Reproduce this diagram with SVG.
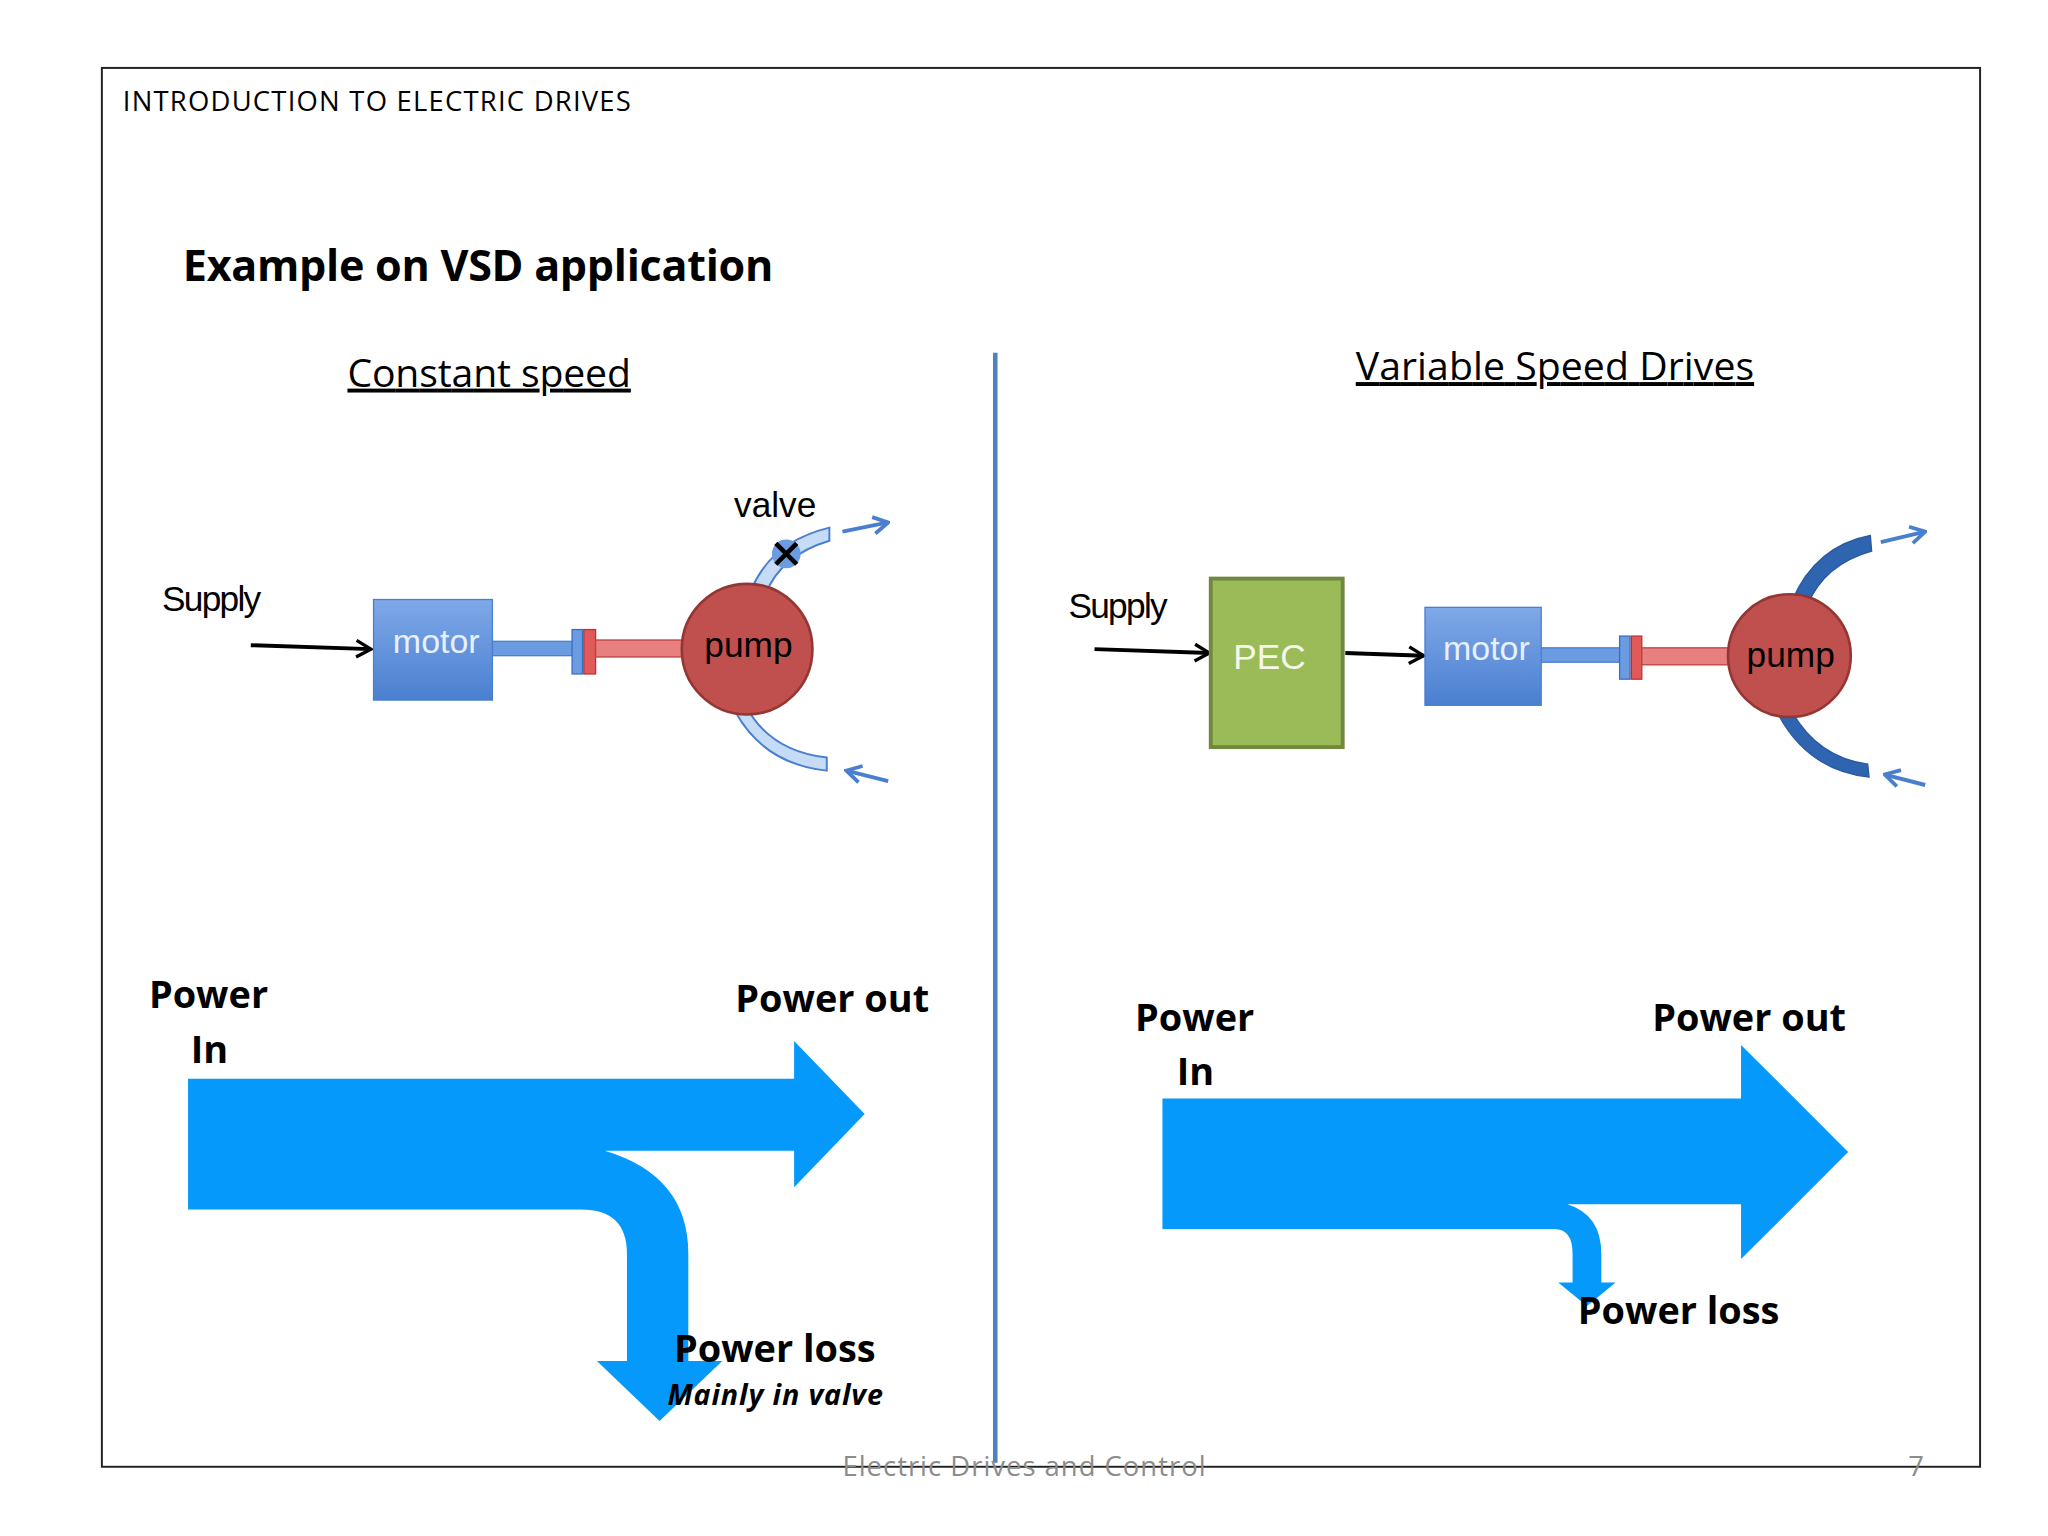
<svg xmlns="http://www.w3.org/2000/svg" width="2048" height="1536" viewBox="0 0 2048 1536">
<defs>
<linearGradient id="mg" x1="0" y1="0" x2="0" y2="1"><stop offset="0" stop-color="#7fa9e8"/><stop offset="1" stop-color="#4a7fd0"/></linearGradient>
<marker id="ah" viewBox="0 0 10 10" refX="9" refY="5" markerWidth="16" markerHeight="16" orient="auto" markerUnits="userSpaceOnUse"><path d="M2,1 L9,5 L2,9" fill="none" stroke="#000" stroke-width="1.6"/></marker>
<marker id="bh" viewBox="0 0 10 10" refX="9" refY="5" markerWidth="16" markerHeight="16" orient="auto" markerUnits="userSpaceOnUse"><path d="M2,1 L9,5 L2,9" fill="none" stroke="#4a7fd0" stroke-width="1.8"/></marker>
</defs>
<style>
.t{font-family:"Open Sans","Liberation Sans",sans-serif}
.n{font-family:"Liberation Sans",sans-serif}
.b{font-weight:bold}
.flow{fill:#0499fa}
</style>
<rect width="2048" height="1536" fill="#fff"/>
<g transform="scale(1.30612)">
<rect x="78" y="52" width="1438" height="1071" fill="none" stroke="#222" stroke-width="1.5"/>
<text class="t" x="94" y="85" font-size="21" textLength="389">INTRODUCTION TO ELECTRIC DRIVES</text>
<text class="t b" x="140" y="215" font-size="33" textLength="452">Example on VSD application</text>
<text class="t" x="266" y="296" font-size="30" text-decoration="underline" textLength="217">Constant speed</text>
<text class="t" x="1038" y="291" font-size="30" text-decoration="underline" textLength="305">Variable Speed Drives</text>
<line x1="762" y1="270" x2="762" y2="1120" stroke="#4f81bd" stroke-width="3.5"/>
<g id="connectors">
<line x1="192" y1="494" x2="284" y2="497" stroke="#000" stroke-width="3" marker-end="url(#ah)"/>
<line x1="838" y1="497" x2="926" y2="500" stroke="#000" stroke-width="3" marker-end="url(#ah)"/>
<line x1="1030" y1="500" x2="1090" y2="502" stroke="#000" stroke-width="3" marker-end="url(#ah)"/>
<line x1="645" y1="407" x2="680" y2="400" stroke="#4a7fd0" stroke-width="3" marker-end="url(#bh)"/>
<line x1="680" y1="598" x2="648" y2="590" stroke="#4a7fd0" stroke-width="3" marker-end="url(#bh)"/>
<line x1="1440" y1="415" x2="1474" y2="407" stroke="#4a7fd0" stroke-width="3" marker-end="url(#bh)"/>
<line x1="1474" y1="601" x2="1443" y2="593" stroke="#4a7fd0" stroke-width="3" marker-end="url(#bh)"/>
</g>
<g id="left-system">
<text class="n" x="124" y="468" font-size="27" textLength="76">Supply</text>
<rect x="377" y="491" width="63" height="11" fill="#6b9be0" stroke="#4a7fd0"/>
<rect x="438" y="482" width="8" height="34" fill="#6b9be0" stroke="#3a6fc0"/>
<rect x="447" y="482" width="9" height="34" fill="#e05a5a" stroke="#c03030"/>
<rect x="456" y="490" width="70" height="13" fill="#e88080" stroke="#c04040"/>
<path d="M575,452 Q590,415 635,404 L635,414 Q598,425 586,455 Z" fill="#c6dbf5" stroke="#4a7fd0" stroke-width="1.5"/>
<path d="M572,542 Q590,575 633,580 L633,590 Q585,585 563,545 Z" fill="#c6dbf5" stroke="#4a7fd0" stroke-width="1.5"/>
<g id="motor1"><rect x="286" y="459" width="91" height="77" fill="url(#mg)" stroke="#4a7fd0"/><text class="n" x="334" y="500" font-size="26" fill="#e8f0ff" text-anchor="middle">motor</text></g>
<g id="pump1"><circle cx="572" cy="497" r="50" fill="#c0504d" stroke="#943634" stroke-width="2"/><text class="n" x="573" y="503" font-size="27" text-anchor="middle">pump</text></g>
<g id="valve"><text class="n" x="562" y="396" font-size="27">valve</text><circle cx="602" cy="424" r="11" fill="#6b9be0"/><path d="M594,416 L610,432 M610,416 L594,432" stroke="#000" stroke-width="3.5"/></g>
</g>
<g id="right-system">
<text class="n" x="818" y="473" font-size="27" textLength="76">Supply</text>
<rect x="1180" y="496" width="62" height="11" fill="#6b9be0" stroke="#4a7fd0"/>
<rect x="1240" y="487" width="8" height="33" fill="#6b9be0" stroke="#3a6fc0"/>
<rect x="1249" y="487" width="8" height="33" fill="#e05a5a" stroke="#c03030"/>
<rect x="1257" y="496" width="68" height="13" fill="#e88080" stroke="#c04040"/>
<path d="M1372,460 Q1390,418 1432,410 L1433,422 Q1397,432 1384,463 Z" fill="#2e64b0" stroke="#2a5aa0"/>
<path d="M1372,545 Q1392,580 1430,585 L1431,595 Q1385,590 1362,548 Z" fill="#2e64b0" stroke="#2a5aa0"/>
<g id="pec"><rect x="927" y="443" width="101" height="129" fill="#9bbb59" stroke="#71893f" stroke-width="3"/><text class="n" x="972" y="512" font-size="27" fill="#f3f8e8" text-anchor="middle">PEC</text></g>
<g id="motor2"><rect x="1091" y="465" width="89" height="75" fill="url(#mg)" stroke="#4a7fd0"/><text class="n" x="1138" y="505" font-size="26" fill="#e8f0ff" text-anchor="middle">motor</text></g>
<g id="pump2"><circle cx="1370" cy="502" r="47" fill="#c0504d" stroke="#943634" stroke-width="2"/><text class="n" x="1371" y="511" font-size="27" text-anchor="middle">pump</text></g>
</g>
<g id="left-flow">
<path class="flow" d="M144,826 L608,826 L608,797 L662,853 L608,909 L608,881 L463,881 Q527,900 527,960 L527,1042 L553,1042 L505,1088 L457,1042 L480,1042 L480,960 Q480,926 445,926 L144,926 Z"/>
<text class="t b" x="114" y="772" font-size="29">Power</text>
<text class="t b" x="146" y="814" font-size="29">In</text>
<text class="t b" x="563" y="775" font-size="29">Power out</text>
<text class="t b" x="516" y="1043" font-size="29">Power loss</text>
<text class="t b" x="511" y="1076" font-size="22" font-style="italic" textLength="165">Mainly in valve</text>
</g>
<g id="right-flow">
<path class="flow" d="M890,841 L1333,841 L1333,800 L1415,882 L1333,964 L1333,922 L1200,922 Q1226,930 1226,960 L1226,982 L1237,982 L1215,1000 L1193,982 L1204,982 L1204,960 Q1204,941 1190,941 L890,941 Z"/>
<text class="t b" x="869" y="789" font-size="29">Power</text>
<text class="t b" x="901" y="831" font-size="29">In</text>
<text class="t b" x="1265" y="789" font-size="29">Power out</text>
<text class="t b" x="1208" y="1014" font-size="29">Power loss</text>
</g>
<text class="t" x="645" y="1130" font-size="21" fill="#8c8c8c" textLength="278">Electric Drives and Control</text>
<text class="t" x="1467" y="1130" font-size="21" fill="#8c8c8c" text-anchor="middle">7</text>
</g>
</svg>
